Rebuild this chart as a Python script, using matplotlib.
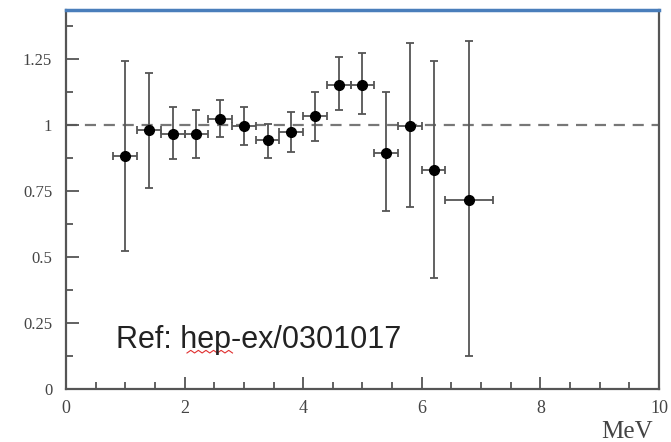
import matplotlib
matplotlib.use("Agg")
import matplotlib.pyplot as plt
from matplotlib.ticker import MultipleLocator, FixedLocator

# ratio measured / expected, per energy bin
energy = [1.0, 1.4, 1.8, 2.2, 2.6, 3.0, 3.4, 3.8, 4.2, 4.6, 5.0, 5.4, 5.8, 6.2, 6.8]
ratio = [0.883, 0.981, 0.968, 0.966, 1.023, 0.998, 0.943, 0.972, 1.035, 1.153,
         1.153, 0.896, 0.997, 0.830, 0.717]
err_up = [0.359, 0.215, 0.101, 0.091, 0.072, 0.071, 0.061, 0.078, 0.092, 0.103,
          0.120, 0.231, 0.314, 0.411, 0.602]
err_down = [0.359, 0.221, 0.097, 0.090, 0.070, 0.074, 0.066, 0.073, 0.097, 0.096,
            0.111, 0.221, 0.307, 0.410, 0.592]
bin_half = [0.2] * 14 + [0.4]

y_ticks = [0, 0.25, 0.5, 0.75, 1, 1.25]
y_labels = ["0", "0.25", "0.5", "0.75", "1", "1.25"]
x_ticks = [0, 2, 4, 6, 8, 10]
x_labels = ["0", "2", "4", "6", "8", "10"]

serif = "Liberation Serif"
gray = "#555555"

fig = plt.figure(figsize=(6.71, 4.42), dpi=100)
ax = fig.add_axes([0.0984, 0.1199, 0.8836, 0.8575])

ax.axhline(1.0, color="#777777", lw=1.6, ls=(0, (5, 3.5)), zorder=1)
ax.errorbar(energy, ratio, yerr=[err_down, err_up], xerr=bin_half, fmt="o",
            color="black", ms=7, ecolor=gray, elinewidth=1.3, capsize=3.2,
            capthick=1.3, zorder=3)

ax.set_xlim(0, 10)
ax.set_ylim(0, 1.436)

ax.yaxis.set_major_locator(FixedLocator(y_ticks))
ax.set_yticklabels(y_labels, fontfamily=serif, fontsize=12, color="#444444")
ax.yaxis.set_minor_locator(MultipleLocator(0.125))
ax.xaxis.set_major_locator(FixedLocator(x_ticks))
ax.set_xticklabels(x_labels, fontfamily=serif, fontsize=13, color="#444444")
ax.xaxis.set_minor_locator(MultipleLocator(0.5))

ax.tick_params(axis="both", which="major", direction="in", length=9, width=1.3,
               color=gray, pad=8)
ax.tick_params(axis="both", which="minor", direction="in", length=5, width=1.3,
               color=gray)
ax.tick_params(axis="y", which="major", pad=10)
ax.tick_params(top=False, right=False, which="both")

for side in ["left", "bottom", "right"]:
    ax.spines[side].set_color(gray)
    ax.spines[side].set_linewidth(1.6)
ax.spines["top"].set_color("#4a7ebb")
ax.spines["top"].set_linewidth(2.5)

ax.text(0.99, -0.113, "MeV", transform=ax.transAxes, ha="right", va="center",
        fontfamily=serif, fontsize=18, color="#444444")

ax.text(0.084, 0.13, "Ref: hep-ex/0301017", transform=ax.transAxes,
        ha="left", va="center", fontfamily="Liberation Sans", fontsize=22,
        color="#222222")

# spell-check squiggle under "hep"
sx = [0.204 + i * 0.0064 for i in range(13)]
sy = [0.095 + (0.007 if i % 2 else 0) for i in range(13)]
ax.plot(sx, sy, transform=ax.transAxes, color="#e03030", lw=0.8, clip_on=False)

fig.savefig("out.png", dpi=100)
